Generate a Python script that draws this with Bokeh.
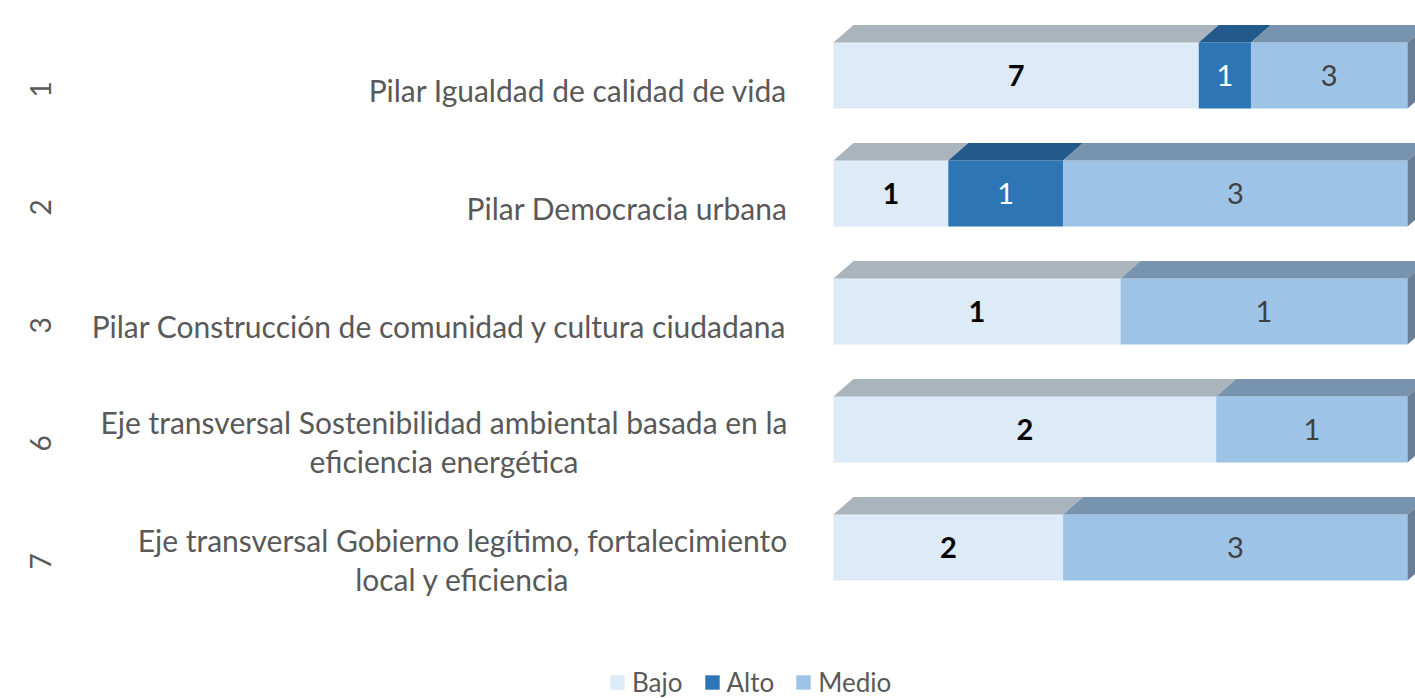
import numpy as np
from bokeh.plotting import figure
from bokeh.models import ColumnDataSource, Range1d, Legend, LegendItem
from bokeh.core.properties import value
from bokeh.embed import file_html
from bokeh.resources import INLINE

# ---- data ----
codes = ["1", "2", "3", "6", "7"]
categories = [
    "Pilar Igualdad de calidad de vida",
    "Pilar Democracia urbana",
    "Pilar Construcción de comunidad y cultura ciudadana",
    "Eje transversal Sostenibilidad ambiental basada en la\neficiencia energética",
    "Eje transversal Gobierno legítimo, fortalecimiento\nlocal y eficiencia",
]
series_names = ["Bajo", "Alto", "Medio"]
bajo = [7, 1, 1, 2, 2]
alto = [1, 1, 0, 0, 0]
medio = [3, 3, 1, 1, 3]

# ---- styling ----
FONT = "Lato"
front_colors = ["#ddeaf8", "#2e75b6", "#9dc3e6"]
top_colors = ["#a9b4bc", "#225a8c", "#7893ae"]
side_color = "#687f96"
label_colors = ["#000000", "#ffffff", "#404040"]
label_styles = ["bold", "normal", "normal"]

W, H = 1415, 698
PX_X = 574.0   # px per unit (100%)
PX_Y = 118.0   # px per row
x0_px = 833
y0_px = 75
xr = Range1d(-x0_px / PX_X, (W - x0_px) / PX_X)
yr = Range1d((H - y0_px) / PX_Y, -y0_px / PX_Y)

p = figure(width=W, height=H, x_range=xr, y_range=yr, output_backend="svg",
           toolbar_location=None, min_border=0, x_axis_type=None, y_axis_type=None,
           outline_line_color=None, background_fill_color="white")
p.grid.visible = False

rows = np.arange(len(codes), dtype=float)
vals = np.array([bajo, alto, medio], dtype=float)
totals = vals.sum(axis=0)
fracs = vals / totals
lefts = np.vstack([np.zeros(len(codes)), np.cumsum(fracs, axis=0)[:-1]])
rights = lefts + fracs

bar_h = 66 / PX_Y
dx = 20 / PX_X
dy = 17.5 / PX_Y

renderers = []
for s in range(3):
    mask = vals[s] > 0
    src = ColumnDataSource(dict(
        y=rows[mask], left=lefts[s][mask], right=rights[s][mask],
        mid=(lefts[s][mask] + rights[s][mask]) / 2,
        lab=[str(int(v)) for v in vals[s][mask]],
    ))
    r = p.hbar(y="y", left="left", right="right", height=bar_h, source=src,
               fill_color=front_colors[s], line_color=None)
    renderers.append(r)
    # top faces
    xs, ys = [], []
    for yv, l, rr in zip(rows[mask], lefts[s][mask], rights[s][mask]):
        yt = yv - bar_h / 2
        xs.append([l, rr, rr + dx, l + dx])
        ys.append([yt, yt, yt - dy, yt - dy])
    p.patches(xs, ys, fill_color=top_colors[s], line_color=None)
    p.text(x="mid", y="y", text="lab", source=src, text_align="center",
           text_baseline="middle", text_font=value(FONT), text_font_size="29px",
           text_font_style=label_styles[s], text_color=label_colors[s])

# right side faces
sx, sy = [], []
for i, yv in enumerate(rows):
    yt = yv - bar_h / 2
    yb = yv + bar_h / 2
    sx.append([1.0, 1.0 + dx, 1.0 + dx, 1.0])
    sy.append([yt, yt - dy, yb - dy, yb])
p.patches(sx, sy, fill_color=side_color, line_color=None)

# category labels (single-line: right aligned; two-line: centred block)
lab_off = 14 / PX_Y
right_edge = (787 - x0_px) / PX_X
cat_x, cat_y, cat_align = [], [], []
block_centres = {3: (443.5 - x0_px) / PX_X, 4: (462 - x0_px) / PX_X}
for i, t in enumerate(categories):
    if "\n" in t:
        cat_x.append(block_centres[i])
        cat_align.append("center")
        cat_y.append(rows[i] + 12 / PX_Y)
    else:
        cat_x.append(right_edge)
        cat_align.append("right")
        cat_y.append(rows[i] + lab_off)
cat_src = ColumnDataSource(dict(x=cat_x, y=cat_y, t=categories, a=cat_align))
p.text(x="x", y="y", text="t", source=cat_src, text_align="a", text_baseline="middle",
       text_font=value(FONT), text_font_size="30px", text_color="#595959",
       text_line_height=1.08)
code_src = ColumnDataSource(dict(x=[(40 - x0_px) / PX_X] * len(codes), y=rows + lab_off, t=codes))
p.text(x="x", y="y", text="t", source=code_src, text_align="center", text_baseline="middle",
       angle=np.pi / 2, text_font=value(FONT), text_font_size="28px", text_color="#595959")

legend = Legend(items=[LegendItem(label=n, renderers=[r]) for n, r in zip(series_names, renderers)],
                orientation="horizontal", location=(608, 0), label_text_font=FONT,
                label_text_font_size="26px", label_text_color="#595959",
                glyph_width=18, glyph_height=18, spacing=20, label_standoff=6,
                padding=0, margin=0, border_line_color=None, background_fill_alpha=0)
p.add_layout(legend)

open("out.html", "w").write(file_html(p, INLINE))
